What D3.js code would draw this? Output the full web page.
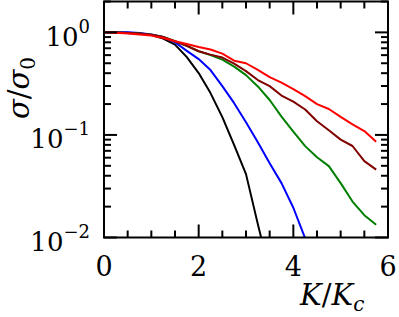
<!DOCTYPE html>
<html>
<head>
<meta charset="utf-8">
<script src="https://cdn.jsdelivr.net/npm/d3@7"></script>
<style>
  body { margin: 0; background: #fff; }
  text { font-family: "DejaVu Serif", serif; fill: #000; }
</style>
</head>
<body>
<svg width="399" height="317"></svg>
<script>
// data, K/Kc in steps of 0.25
let kValues = [0, 0.25, 0.5, 0.75, 1, 1.25, 1.5, 1.75, 2, 2.25, 2.5, 2.75, 3, 3.25, 3.5, 3.75, 4, 4.25, 4.5, 4.75, 5, 5.25, 5.5, 5.75];
let blackSeries = [1.0, 0.995, 0.99, 0.975, 0.94, 0.87, 0.76, 0.574, 0.401, 0.256, 0.149, 0.0795, 0.0415, 0.0135, 0.0046];
let blueSeries = [1.0, 1.0, 1.005, 0.985, 0.955, 0.9, 0.8, 0.66, 0.549, 0.429, 0.299, 0.204, 0.133, 0.085, 0.053, 0.0339, 0.0195, 0.0098, 0.005];
let greenSeries = [1.0, 0.995, 0.985, 0.975, 0.95, 0.9, 0.82, 0.74, 0.655, 0.6, 0.543, 0.464, 0.383, 0.297, 0.219, 0.151, 0.108, 0.0778, 0.0607, 0.0497, 0.0339, 0.0224, 0.0165, 0.0133];
let darkRedSeries = [1.0, 0.995, 0.985, 0.975, 0.95, 0.9, 0.82, 0.74, 0.655, 0.607, 0.568, 0.496, 0.419, 0.343, 0.299, 0.242, 0.211, 0.177, 0.136, 0.111, 0.090, 0.078, 0.0555, 0.0459];
let redSeries = [1.0, 0.99, 0.975, 0.955, 0.93, 0.88, 0.82, 0.77, 0.72, 0.68, 0.62, 0.53, 0.50, 0.43, 0.366, 0.324, 0.28, 0.239, 0.20, 0.179, 0.150, 0.127, 0.109, 0.086];

let series = [
  {color: "#000000", values: blackSeries},
  {color: "#0000ff", values: blueSeries},
  {color: "#008000", values: greenSeries},
  {color: "#800000", values: darkRedSeries},
  {color: "#ff0000", values: redSeries}
];

let xTicks = [0, 2, 4, 6];
let yTicks = [1, 0.1, 0.01];
let yExponents = ["0", "−1", "−2"];

let svg = d3.select("svg");
let pLeft = 104, pRight = 388, pTop = 1.5, pBottom = 237.5;

let x = d3.scaleLinear().domain([0, 6]).range([pLeft, pRight]);
let y = d3.scaleLog().domain([0.01, 2]).range([pBottom, pTop]);

svg.append("clipPath").attr("id", "clip")
  .append("rect")
  .attr("x", pLeft).attr("y", pTop)
  .attr("width", pRight - pLeft).attr("height", pBottom - pTop);

// curves
let line = d3.line()
  .x((d, i) => x(kValues[i]))
  .y(d => y(d));

svg.append("g")
  .attr("clip-path", "url(#clip)")
  .selectAll("path")
  .data(series)
  .join("path")
    .attr("fill", "none")
    .attr("stroke", d => d.color)
    .attr("stroke-width", 2)
    .attr("stroke-linejoin", "round")
    .attr("d", d => line(d.values));

// ticks, pointing inward on all four sides
let xMinor = d3.range(0.5, 6, 0.5).filter(v => v % 2 != 0);
let yMinor = [];
[0.01, 0.1, 1].forEach(dec => {
  for (let m = 2; m <= 9; m++) {
    if (dec * m <= 2) yMinor.push(dec * m);
  }
});

let xTickData = xTicks.map(v => ({v: v, len: 13})).concat(xMinor.map(v => ({v: v, len: 7})));
let yTickData = yTicks.map(v => ({v: v, len: 13})).concat(yMinor.map(v => ({v: v, len: 7})));

let ticks = svg.append("g")
  .attr("stroke", "#000")
  .attr("stroke-width", 2);

[pBottom, pTop].forEach(edge => {
  let dir = edge == pBottom ? -1 : 1;
  ticks.append("g").selectAll("line")
    .data(xTickData)
    .join("line")
      .attr("x1", d => x(d.v)).attr("x2", d => x(d.v))
      .attr("y1", edge).attr("y2", d => edge + dir * d.len);
});
[pLeft, pRight].forEach(edge => {
  let dir = edge == pLeft ? 1 : -1;
  ticks.append("g").selectAll("line")
    .data(yTickData)
    .join("line")
      .attr("y1", d => y(d.v)).attr("y2", d => y(d.v))
      .attr("x1", edge).attr("x2", d => edge + dir * d.len);
});

// frame
svg.append("rect")
  .attr("x", pLeft).attr("y", pTop)
  .attr("width", pRight - pLeft).attr("height", pBottom - pTop)
  .attr("fill", "none")
  .attr("stroke", "#000")
  .attr("stroke-width", 2);

// tick labels
svg.append("g")
  .selectAll("text")
  .data(xTicks)
  .join("text")
    .attr("x", d => x(d))
    .attr("y", pBottom + 38)
    .attr("text-anchor", "middle")
    .attr("font-size", 27)
    .text(d => d);

let yLab = svg.append("g")
  .selectAll("text")
  .data(yTicks)
  .join("text")
    .attr("x", pLeft - 14)
    .attr("y", d => y(d) + 13.5)
    .attr("text-anchor", "end")
    .attr("font-size", 26);
yLab.append("tspan").text("10");
yLab.append("tspan")
  .attr("dy", -13)
  .attr("font-size", 18)
  .text((d, i) => yExponents[i]);

// axis titles
let xt = svg.append("text")
  .attr("x", 300)
  .attr("y", 305)
  .attr("font-size", 29)
  .attr("font-style", "italic");
xt.append("tspan").text("K");
xt.append("tspan").attr("font-style", "normal").text("/");
xt.append("tspan").text("K");
xt.append("tspan").attr("font-size", 20).attr("dy", 6).text("c");

let yt = svg.append("text")
  .attr("transform", "translate(29,119) rotate(-90)")
  .attr("font-size", 29);
yt.append("tspan").attr("font-style", "italic").text("σ");
yt.append("tspan").text("/");
yt.append("tspan").attr("font-style", "italic").text("σ");
yt.append("tspan").attr("font-size", 20).attr("dy", 6).text("0");
</script>
</body>
</html>
